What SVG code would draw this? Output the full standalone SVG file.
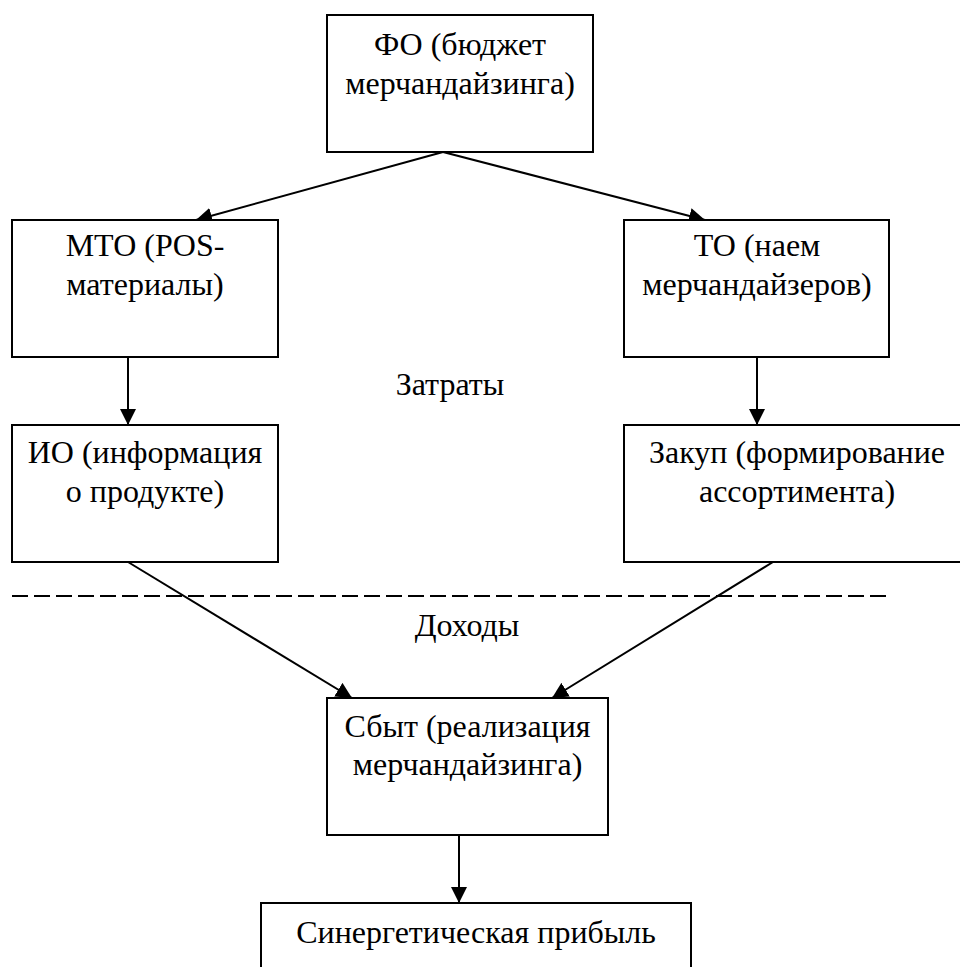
<svg xmlns="http://www.w3.org/2000/svg" width="960" height="967" viewBox="0 0 960 967">
<style>
.box{fill:#fff;stroke:#000;stroke-width:2}
.t{font-family:"Times New Roman","Liberation Serif",Tinos,"Noto Serif","DejaVu Serif",serif;font-size:32px;fill:#000;text-anchor:middle}
.c{stroke:#000;stroke-width:2;fill:none;marker-end:url(#ah)}
.d{stroke:#000;stroke-width:2;stroke-dasharray:16 6;fill:none}
</style>
<defs>
<marker id="ah" markerUnits="userSpaceOnUse" markerWidth="17" markerHeight="16" refX="16" refY="8" orient="auto">
<path d="M0,0 L16,8 L0,16 z" fill="#000"/>
</marker>
</defs>
<rect width="960" height="967" fill="#fff"/>
<g id="connectors">
<line class="c" x1="443" y1="152" x2="196" y2="220"/>
<line class="c" x1="443" y1="152" x2="705" y2="220"/>
<line class="c" x1="128" y1="357" x2="128" y2="425"/>
<line class="c" x1="757" y1="357" x2="757" y2="425"/>
<line class="c" x1="128" y1="562" x2="352" y2="698"/>
<line class="c" x1="773" y1="562" x2="552" y2="698"/>
<line class="c" x1="459" y1="835" x2="459" y2="903"/>
</g>
<line id="divider" class="d" x1="12" y1="596" x2="888" y2="596"/>
<g id="fo">
<rect class="box" x="327" y="15" width="266" height="137"/>
<text class="t" x="460" y="55">ФО (бюджет</text>
<text class="t" x="460" y="94">мерчандайзинга)</text>
</g>
<g id="mto">
<rect class="box" x="12" y="220" width="266" height="137"/>
<text class="t" x="145" y="256">МТО (POS-</text>
<text class="t" x="145" y="295">материалы)</text>
</g>
<g id="to">
<rect class="box" x="624" y="220" width="265" height="137"/>
<text class="t" x="757" y="256">ТО (наем</text>
<text class="t" x="757" y="295">мерчандайзеров)</text>
</g>
<g id="io">
<rect class="box" x="12" y="425" width="266" height="137"/>
<text class="t" x="145" y="463">ИО (информация</text>
<text class="t" x="145" y="502">о продукте)</text>
</g>
<g id="zakup">
<rect class="box" x="624" y="425" width="346" height="137"/>
<text class="t" x="797" y="463">Закуп (формирование</text>
<text class="t" x="797" y="502">ассортимента)</text>
</g>
<g id="sbyt">
<rect class="box" x="327" y="698" width="281" height="137"/>
<text class="t" x="467.5" y="737">Сбыт (реализация</text>
<text class="t" x="467.5" y="775">мерчандайзинга)</text>
</g>
<g id="profit">
<rect class="box" x="261" y="903" width="430" height="100"/>
<text class="t" x="476" y="943">Синергетическая прибыль</text>
</g>
<text id="costs" class="t" x="450" y="395">Затраты</text>
<text id="income" class="t" x="467" y="636">Доходы</text>
</svg>
